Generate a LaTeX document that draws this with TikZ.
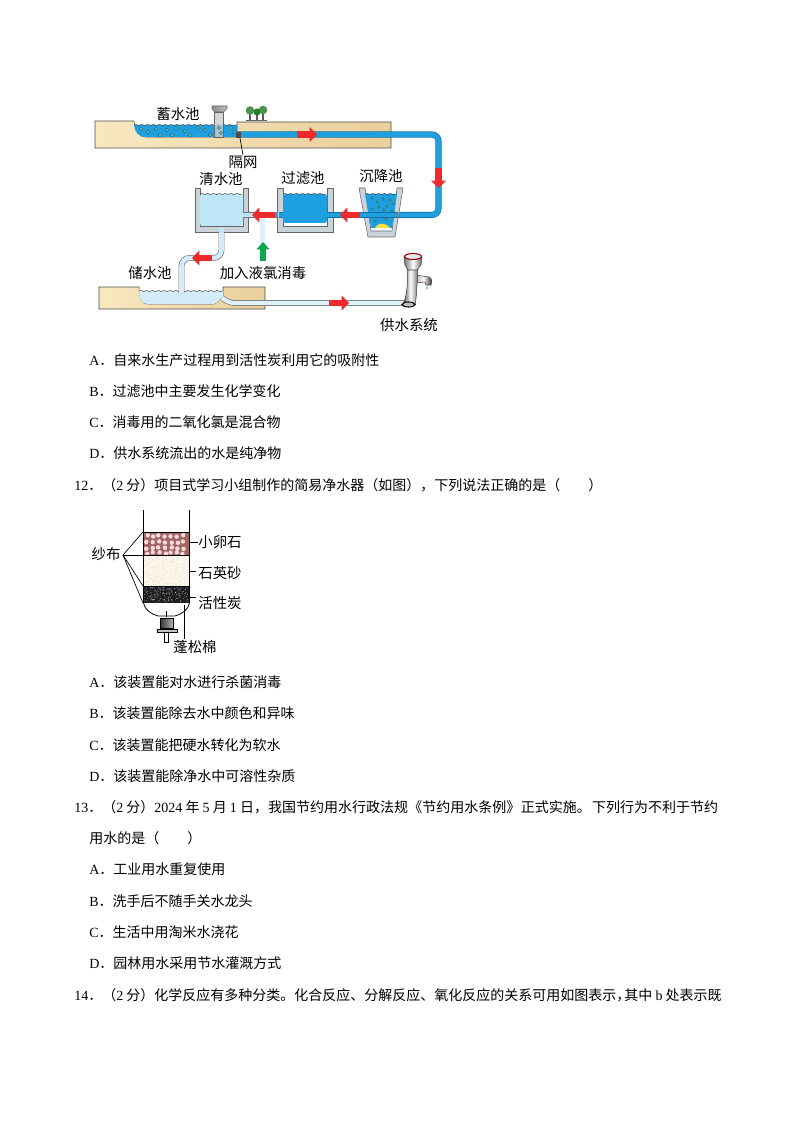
\documentclass[tikz,border=0pt]{standalone}
\usepackage{fontspec}
\setmainfont{Noto Sans CJK SC}
\newfontfamily\lat{Liberation Serif}
\usetikzlibrary{arrows.meta,decorations.pathmorphing}
\definecolor{soil}{HTML}{F8E8C0}
\definecolor{soildark}{HTML}{E9CF9B}
\definecolor{deepwater}{HTML}{1E9FE0}
\definecolor{palewater}{HTML}{BFE6F6}
\definecolor{wallgray}{HTML}{C9D3DA}
\definecolor{flowred}{HTML}{EE2A2A}
\definecolor{addgreen}{HTML}{0BA650}
\tikzset{
  line/.style={anchor=west,inner sep=0pt,font=\fontsize{10.5pt}{10.5pt}\selectfont},
  lbl/.style={inner sep=0pt,font=\fontsize{10.8pt}{10.8pt}\selectfont},
  ground/.style={left color=soil,right color=soildark,draw=black!70,line width=.4pt},
  pipe/.style={draw=#1!70!black,line width=.5pt,double=#1,double distance=3.6pt,rounded corners=5pt},
  lightpipe/.style={draw=black!55,line width=.5pt,double=palewater!50,double distance=3.2pt,rounded corners=5pt},
  flow/.style={draw=flowred,line width=4.6pt,-{Triangle[length=5.5pt,width=11pt]}},
  addflow/.style={draw=addgreen,line width=4.4pt,-{Triangle[length=5.5pt,width=9.5pt]}},
  wall/.style={fill=wallgray,draw=black!60,line width=.4pt},
  wave/.style={draw=black!70,line width=.35pt,decorate,decoration={snake,amplitude=.45pt,segment length=4.4pt}},
  bubble/.style={fill=palewater!40,draw=teal!70!black,line width=.35pt},
  leader/.style={draw=black,line width=.5pt}
}
\begin{document}
\begin{tikzpicture}[x=.75pt,y=-.75pt]
  \useasboundingbox (0,0) rectangle (794,1123);
  \fill[white] (0,0) rectangle (794,1123);

  \draw[ground] (95,121) -- (134,121) .. controls (135,130) and (138,137) .. (146,137)
    -- (237,137) -- (237,122) -- (391,122) -- (391,148) -- (95,148) -- cycle;
  \fill[deepwater] (134,125) -- (237,125) -- (237,137) -- (146,137) .. controls (138,137) and (135,132) .. (134,125) -- cycle;
  \draw[wave] (134,125) -- (237,125);
  \draw[pipe=deepwater] (237,134.5) -- (438.5,134.5) -- (438.5,215) -- (398,215);
  \fill[black!70] (236,132) rectangle (241,138);
  \draw[flow] (297,134.5) -- (317,134.5);
  \draw[flow] (438.5,168) -- (438.5,188);

  \fill[black!20,opacity=.8] (214.5,112) rectangle (223.5,137);
  \draw[black!60,line width=.4pt] (214.5,112) rectangle (223.5,137);
  \draw[left color=black!45,right color=black!25,draw=black!60,line width=.4pt] (212,106) -- (227,106) -- (227,108.5) -- (223.5,112) -- (214.5,112) -- (212,108.5) -- cycle;
  \foreach \x/\y in {141/129,148/132,156/129,160/135,167/130,172/135,176/128,185/131,190/135,198/128,205/130,210/135,219/128,221/133,231/128,234/132}
    \draw[bubble] (\x,\y) circle (1.5);

  \draw[black!65,line width=.8pt] (250,121) -- (250,113) (257,121) -- (257,113) (263,121) -- (263,113);
  \fill[green!40!black!70] (250,110.5) circle (4.3) (263,110) circle (4.3);
  \fill[green!40!black!85] (257,112) circle (3.5);
  \fill[black!60] (246,120.5) rectangle (267,121.5);

  \draw[leader] (240,138) -- (243,155);
  \node[lbl] (barrier) at (243,162) {隔网};
  \node[lbl] (storagelbl) at (178,114) {蓄水池};
  \node[lbl] (cleanlbl) at (221,179) {清水池};
  \node[lbl] (filterlbl) at (303,178) {过滤池};
  \node[lbl] (settlelbl) at (381,176) {沉降池};

  \draw[wall] (359,188) -- (365,188) -- (371,231) -- (392,231) -- (397,188) -- (403,188) -- (395,237) -- (368,237) -- cycle;
  \fill[deepwater] (365,194) -- (397,194) -- (392,228) -- (371,228) -- cycle;
  \draw[wave] (365,194) -- (397,194);
  \fill[yellow!70!orange!75] (375,228) .. controls (378,222) and (385,222) .. (390,228) -- cycle;
  \foreach \x/\y in {372/198,377/202,383/199,390/200,393/204,372/209,379/207,387/206,384/210,392/211,378/214,387/216,375/221,386/219}
    \draw[bubble] (\x,\y) circle (1.3);

  \draw[wall] (277,188) -- (283,188) -- (283,226) -- (327,226) -- (327,188) -- (333,188) -- (333,232) -- (277,232) -- cycle;
  \fill[deepwater,rounded corners=2pt] (283,194) -- (327,194) -- (327,223) -- (283,223) -- cycle;
  \draw[wave] (283,194) -- (327,194);
  \draw[pipe=deepwater] (333,215) -- (398,215);
  \draw[pipe=deepwater,rounded corners=0pt] (279,215) -- (283,215);
  \draw[pipe=deepwater,rounded corners=0pt] (327,215) -- (336,215);
  \draw[flow] (360,215) -- (340,215);

  \draw[wall] (195,188) -- (200,188) -- (200,226) -- (243,226) -- (243,188) -- (248,188) -- (248,232) -- (195,232) -- cycle;
  \fill[palewater,rounded corners=2pt] (200,194) -- (243,194) -- (243,226) -- (200,226) -- cycle;
  \draw[wave] (200,194) -- (243,194);

  \draw[lightpipe] (262.5,215) -- (262.5,245);
  \draw[draw=black!55,line width=.5pt,double=palewater,double distance=3.4pt] (243,215) -- (277,215);
  \fill[deepwater] (268,212.5) rectangle (278,217.5);
  \draw[flow] (275,215) -- (252,215);
  \draw[addflow] (263,261) -- (263,242);

  \draw[ground] (99,287) -- (139,287) .. controls (139,299) and (142,304) .. (148,304) -- (214,304)
    .. controls (219,303) and (219,298) .. (223,297) -- (223,287) -- (265,287) -- (265,309) -- (99,309) -- cycle;
  \fill[palewater!70] (139,291) -- (223,291) -- (223,297) .. controls (219,298) and (219,303) .. (214,304)
    -- (148,304) .. controls (142,304) and (139,299) .. (139,291) -- cycle;
  \draw[wave] (139,291) -- (223,291);

  \draw[draw=black!55,line width=.5pt,double=palewater!70,double distance=3.4pt,rounded corners=6pt]
    (221.5,232) -- (221.5,258) -- (181.5,258) -- (181.5,293);
  \fill[palewater] (219.3,228) rectangle (223.7,233);
  \draw[flow] (212,258) -- (192,258);

  \draw[lightpipe,rounded corners=3pt] (222,298) -- (230,303) -- (404,303);
  \draw[flow] (329,303) -- (349,303);
  \node[lbl] (reservoirlbl) at (150,273) {储水池};
  \node[lbl] (chlorinelbl) at (263,273) {加入液氯消毒};
  \node[lbl] (supplylbl) at (409,325) {供水系统};

  \draw[left color=black!30,right color=black!85,middle color=white,draw=black!75,line width=.4pt]
    (415,275) -- (429,277) .. controls (432,278) and (432,282) .. (431,285) -- (426,285) -- (425,282) -- (415,283) -- cycle;
  \draw[left color=black!70,right color=black!55,middle color=white,draw=black!75,line width=.4pt]
    (403,305) .. controls (407,295) and (408,285) .. (407,269) -- (418,269) .. controls (417,282) and (417,295) .. (415,305) -- cycle;
  \draw[left color=black!55,right color=black!60,middle color=white,draw=black!75,line width=.4pt]
    (404,257) -- (422,257) -- (421,265) -- (417,270) -- (408,270) -- (405,265) -- cycle;
  \draw[draw=red!60!black,fill=black!8,line width=.8pt] (413,256.5) ellipse (8.5 and 3);
  \draw[draw=black,fill=black!25,line width=.8pt] (408.5,304.5) ellipse (6.5 and 2.5);
  \fill[deepwater!60] (427,285.5) -- (429,290.5) arc (0:-180:2) -- cycle;

  \node[line] (a11) at (89,360) {{\lat A}．自来水生产过程用到活性炭利用它的吸附性};
  \node[line] (b11) at (89,391) {{\lat B}．过滤池中主要发生化学变化};
  \node[line] (c11) at (89,422) {{\lat C}．消毒用的二氧化氯是混合物};
  \node[line] (d11) at (89,453) {{\lat D}．供水系统流出的水是纯净物};
  \node[line] (q12) at (74,485) {{\lat 12}．（{\lat 2} 分）项目式学习小组制作的简易净水器（如图），下列说法正确的是（\hspace{2em}）};

  \fill[red!40!black!60] (143,532) rectangle (189,555);
  \pgfmathsetseed{7}
  \foreach \x in {147,153,...,186}
    \foreach \y in {536,542,548,553}{
      \pgfmathsetmacro\px{\x+2*rnd-1}
      \pgfmathsetmacro\py{\y+2*rnd-1}
      \fill[pink!55!white] (\px,\py) circle (2.2);
    }
  \fill[yellow!30!brown!10] (143,555) rectangle (189,586);
  \foreach \i in {1,...,200}{
    \pgfmathsetmacro\px{144+44*rnd}
    \pgfmathsetmacro\py{556+29*rnd}
    \fill[brown!35] (\px,\py) circle (.35);
  }
  \fill[black!88] (143,586) rectangle (189,603);
  \foreach \i in {1,...,160}{
    \pgfmathsetmacro\px{144+44*rnd}
    \pgfmathsetmacro\py{587+15*rnd}
    \fill[white!70] (\px,\py) circle (.3);
  }
  \draw[black,line width=.6pt] (143.5,510) -- (143.5,603) .. controls (145,610) and (151,614) .. (158,616)
    -- (175,616) .. controls (182,614) and (188,610) .. (189.5,603) -- (189.5,510);
  \draw[black,line width=.5pt] (143.5,532) -- (189.5,532) (143.5,555) -- (189.5,555) (143.5,586) -- (189.5,586);
  \draw[black,line width=.5pt,left color=black!80,right color=black!30] (160,618) rectangle (173,628);
  \draw[black,line width=.5pt,fill=black!25] (157,629) rectangle (177,632);
  \draw[black,line width=.5pt,fill=white] (164.5,632) rectangle (168.5,642);
  \draw[black,line width=.5pt] (166,611) -- (166,617);

  \node[lbl] (gauze) at (106,554) {纱布};
  \node[lbl] (pebble) at (220,542) {小卵石};
  \node[lbl] (quartz) at (220,573) {石英砂};
  \node[lbl] (carbon) at (220,603) {活性炭};
  \node[lbl] (cotton) at (195,647) {蓬松棉};
  \coordinate (gauzefoot) at (123,555);
  \draw[leader] (gauzefoot) -- (143,532);
  \draw[leader] (gauzefoot) -- (143,555);
  \draw[leader] (gauzefoot) -- (143,586);
  \draw[leader] (gauzefoot) -- (143,603);
  \draw[leader] (189,542) -- (pebble.west);
  \draw[leader] (189,571) -- (196,571);
  \draw[leader] (189,597) -- (196,597);
  \draw[leader] (184.5,605) -- (184.5,639);

  \node[line] (a12) at (89,682) {{\lat A}．该装置能对水进行杀菌消毒};
  \node[line] (b12) at (89,713) {{\lat B}．该装置能除去水中颜色和异味};
  \node[line] (c12) at (89,745) {{\lat C}．该装置能把硬水转化为软水};
  \node[line] (d12) at (89,776) {{\lat D}．该装置能除净水中可溶性杂质};
  \node[line] (q13) at (74,807) {{\lat 13}．（{\lat 2} 分）{\lat 2024} 年 {\lat 5} 月 {\lat 1} 日，我国节约用水行政法规\hspace{.3pt}《节约用水条例》\hspace{.3pt}正式实施。\hspace{1pt}下列行为不利于节约};
  \node[line] (q13b) at (89,838) {用水的是（\hspace{2em}）};
  \node[line] (a13) at (89,869) {{\lat A}．工业用水重复使用};
  \node[line] (b13) at (89,901) {{\lat B}．洗手后不随手关水龙头};
  \node[line] (c13) at (89,932) {{\lat C}．生活中用淘米水浇花};
  \node[line] (d13) at (89,963) {{\lat D}．园林用水采用节水灌溉方式};
  \node[line] (q14) at (74,995) {{\lat 14}．（{\lat 2} 分）化学反应有多种分类。化合反应、分解反应、氧化反应的关系可用如图表示，\hspace{-4.5pt}其中 {\lat b} 处表示既};
\end{tikzpicture}
\end{document}
